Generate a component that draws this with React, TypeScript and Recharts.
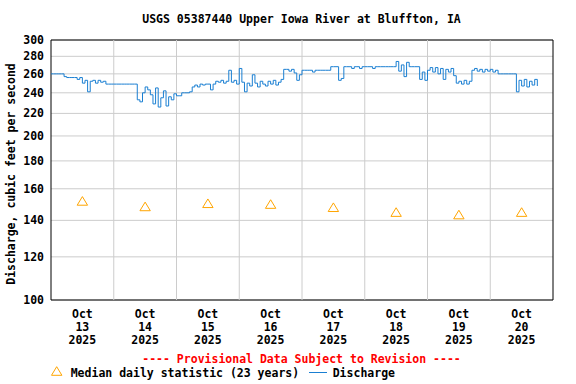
import React from 'react';
import {
  ComposedChart,
  Line,
  Scatter,
  XAxis,
  YAxis,
  CartesianGrid,
  ReferenceLine,
  ReferenceArea,
} from 'recharts';

// Hours since Oct 13 2025 00:00
const dayTicks = [12, 36, 60, 84, 108, 132, 156, 180];
const dayLabels = ['13', '14', '15', '16', '17', '18', '19', '20'];
const midnights = [24, 48, 72, 96, 120, 144, 168];
const yTicks = [100, 120, 140, 160, 180, 200, 220, 240, 260, 280, 300];

// Median daily statistic (23 years), at noon of each day
const medianHours = [12, 36, 60, 84, 108, 132, 156, 180];
const medianValues = [152, 148.5, 150.5, 150, 148, 145, 143.5, 145];

// Discharge, hourly from Oct 13 00:00
const discharge = [
  260, 260, 260, 260, 260,
  257, 256, 256, 256, 256,
  254, 256, 250, 253, 241, 252, 253, 250, 253, 251, 252,
  249, 249, 249, 249, 249, 249, 249, 249, 249, 249, 249, 249,
  233, 231, 240, 246, 243, 238, 229, 245, 226, 235, 242, 227, 236, 233, 239,
  237, 237, 240, 240, 240, 241, 246, 248, 246, 249, 248, 249, 249, 243, 249, 252, 251, 253, 250, 252, 264, 251, 253, 249, 266,
  251, 241, 250, 247, 259, 250, 246, 252, 249, 247, 252, 249, 253, 248, 251, 254,
  265, 265, 263, 265, 261, 253, 259, 264,
  264, 264, 264, 262, 264, 264, 264, 264, 264, 264,
  268, 268, 268, 253, 255, 268, 268, 268, 266, 268, 268, 266, 268, 268, 268, 268, 266, 268, 268, 268, 268, 268, 268, 268, 268,
  274, 263, 270, 257, 273, 268, 268, 268, 268,
  254, 262, 253, 264, 267, 262, 267, 260, 266, 254, 265, 262, 266, 258, 250, 252, 249, 253, 249, 252,
  264, 266, 263, 265, 262, 265, 263, 265, 262, 264,
  260, 260, 260, 260, 260, 260, 260,
  241, 253, 247, 254, 246, 252, 248, 254, 247,
];

const dischargeData = discharge.map((q, i) => ({ h: i, q }));
const medianData = medianHours.map((h, i) => ({ h, m: medianValues[i] }));

const FONT = '"DejaVu Sans Mono", monospace';
const FS = 11.5;
const BLUE = '#1a7fd2';
const ORANGE = '#ffa500';
const GRID = '#cccccc';

const DayTick = (props: any) => {
  const { x, y, payload } = props;
  const idx = dayTicks.indexOf(payload.value);
  return (
    <text
      x={x}
      y={y}
      textAnchor="middle"
      fontFamily={FONT}
      fontSize={FS}
      fontWeight="bold"
      fill="#000"
    >
      <tspan x={x} dy={18}>Oct</tspan>
      <tspan x={x} dy={13}>{dayLabels[idx]}</tspan>
      <tspan x={x} dy={13}>2025</tspan>
    </text>
  );
};

const Triangle = (props: any) => {
  const { cx, cy } = props;
  if (cx == null || cy == null) return null;
  return (
    <polygon
      points={`${cx},${cy - 4.3} ${cx + 5.2},${cy + 4.3} ${cx - 5.2},${cy + 4.3}`}
      fill="none"
      stroke={ORANGE}
      strokeWidth={1}
    />
  );
};

export default function App() {
  return (
    <div style={{ position: 'absolute', left: 0, top: 0, width: 576, height: 384, background: '#fff' }}>
      <ComposedChart
        width={576}
        height={384}
        margin={{ top: 40, right: 23, bottom: 54, left: 0 }}
      >
        <CartesianGrid vertical={false} stroke={GRID} strokeWidth={1} />
        {midnights.map((m) => (
          <ReferenceLine key={m} x={m} stroke={GRID} strokeWidth={1} ifOverflow="visible" />
        ))}
        <XAxis
          dataKey="h"
          type="number"
          domain={[0, 192]}
          ticks={dayTicks}
          allowDataOverflow
          tickLine={false}
          axisLine={false}
          tickSize={0}
          tickMargin={0}
          height={30}
          tick={<DayTick />}
          interval={0}
        />
        <YAxis
          type="number"
          scale="log"
          domain={[100, 300]}
          ticks={yTicks}
          allowDataOverflow
          width={51}
          tickLine={false}
          axisLine={false}
          tickSize={0}
          tickMargin={7}
          interval={0}
          tick={{ fontFamily: FONT, fontSize: FS, fontWeight: 'bold', fill: '#000' }}
        />
        <Line
          data={dischargeData}
          dataKey="q"
          type="stepAfter"
          stroke={BLUE}
          strokeWidth={1}
          dot={false}
          activeDot={false}
          isAnimationActive={false}
        />
        <Scatter
          data={medianData}
          dataKey="m"
          shape={<Triangle />}
          isAnimationActive={false}
        />
        <ReferenceArea
          x1={0}
          x2={192}
          y1={100}
          y2={300}
          fill="none"
          fillOpacity={0}
          stroke="#000"
          strokeWidth={1}
          ifOverflow="visible"
        />
      </ComposedChart>
      <svg
        width={576}
        height={384}
        style={{ position: 'absolute', left: 0, top: 0, pointerEvents: 'none' }}
      >
        <g fontFamily={FONT} fontSize={FS} fontWeight="bold">
          <text x={301.5} y={23} textAnchor="middle" fill="#000">
            USGS 05387440 Upper Iowa River at Bluffton, IA
          </text>
          <text transform="translate(15,174) rotate(-90)" textAnchor="middle" fill="#000">
            Discharge, cubic feet per second
          </text>
          <text x={301.5} y={363} textAnchor="middle" fill="#ff0000">
            ---- Provisional Data Subject to Revision ----
          </text>
          <polygon points="56.7,366.7 61.9,375.3 51.5,375.3" fill="none" stroke={ORANGE} strokeWidth={1} />
          <text x={70.7} y={377} fill="#000">Median daily statistic (23 years)</text>
          <line x1={309} x2={327} y1={372.5} y2={372.5} stroke={BLUE} strokeWidth={1} />
          <text x={332.7} y={377} fill="#000">Discharge</text>
        </g>
      </svg>
    </div>
  );
}
